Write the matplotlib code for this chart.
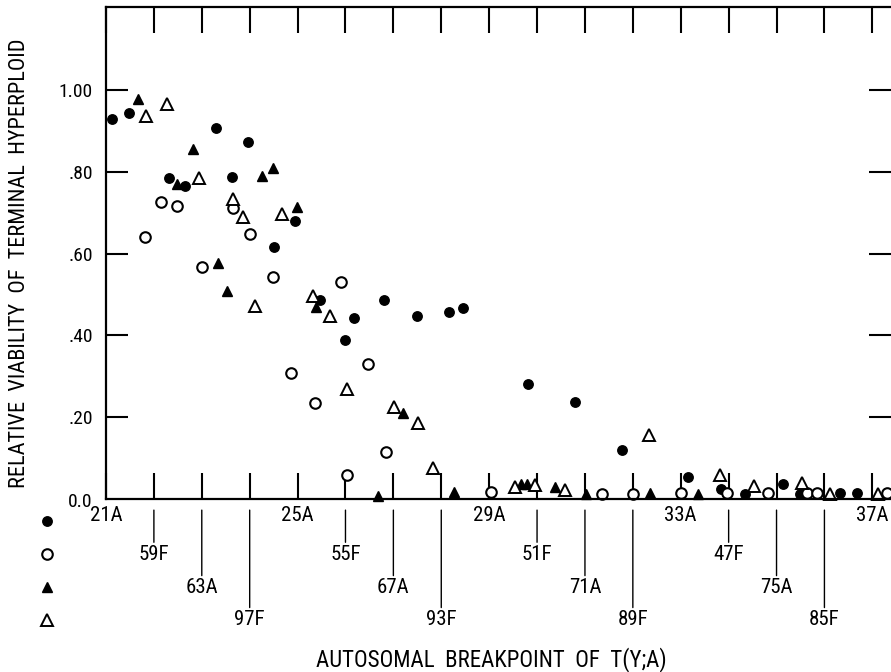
import numpy as np
import matplotlib
matplotlib.use("Agg")
import matplotlib.pyplot as plt
from matplotlib.lines import Line2D
from matplotlib import font_manager as fm


def has_font(name):
    try:
        fm.findfont(fm.FontProperties(family=name), fallback_to_default=False)
        return True
    except ValueError:
        return False


# the scan uses a narrow gothic lettering; take the narrowest face we have
narrow = [f for f in ['Liberation Sans Narrow', 'DejaVu Sans Condensed',
                      'Roboto Condensed', 'Roboto'] if has_font(f)]
plt.rcParams['font.family'] = narrow[:1] + ['DejaVu Sans']

# breakpoint labels along the x axis, in order, and the row each one sits in
breakpoints = ["21A", "59F", "63A", "97F", "25A", "55F", "67A", "93F", "29A",
               "51F", "71A", "89F", "33A", "47F", "75A", "85F", "37A"]
label_row = [0, 1, 2, 3, 0, 1, 2, 3, 0, 1, 2, 3, 0, 1, 2, 3, 0]

# filled circles
fc_x = [0.13, 0.48, 1.32, 1.65, 2.30, 2.63, 2.96, 3.51, 3.95, 4.47, 4.99, 5.18,
        5.80, 6.49, 7.16, 7.45, 8.81, 9.79, 10.77, 12.15, 12.84, 13.34, 14.13,
        14.49, 15.32, 15.68]
fc_y = [0.93, 0.944, 0.785, 0.765, 0.907, 0.787, 0.873, 0.616, 0.68, 0.487,
        0.389, 0.443, 0.487, 0.447, 0.457, 0.467, 0.281, 0.237, 0.12, 0.054,
        0.024, 0.012, 0.037, 0.012, 0.015, 0.015]

# open circles
oc_x = [0.81, 1.15, 1.48, 2.00, 2.65, 3.01, 3.49, 3.86, 4.36, 4.91, 5.03, 5.47,
        5.85, 8.04, 10.35, 11.00, 12.00, 12.96, 13.82, 14.63, 14.84, 16.30]
oc_y = [0.64, 0.726, 0.716, 0.567, 0.711, 0.648, 0.543, 0.308, 0.235, 0.531,
        0.059, 0.33, 0.115, 0.017, 0.012, 0.012, 0.015, 0.015, 0.015, 0.015,
        0.015, 0.015]

# filled triangles
ft_x = [0.67, 1.48, 1.82, 2.34, 2.53, 3.26, 3.49, 3.99, 4.38, 5.68, 6.20, 7.26,
        8.66, 8.79, 9.37, 10.02, 11.36, 12.36]
ft_y = [0.978, 0.77, 0.856, 0.577, 0.509, 0.79, 0.809, 0.714, 0.47, 0.007,
        0.21, 0.017, 0.037, 0.037, 0.03, 0.012, 0.015, 0.012]

# open triangles
ot_x = [0.84, 1.27, 1.94, 2.65, 2.86, 3.11, 3.67, 4.32, 4.68, 5.03, 6.01, 6.51,
        6.83, 8.54, 8.96, 9.58, 11.34, 12.82, 13.53, 14.53, 15.11, 16.12]
ot_y = [0.936, 0.966, 0.785, 0.733, 0.69, 0.472, 0.697, 0.496, 0.447, 0.269,
        0.225, 0.186, 0.076, 0.03, 0.035, 0.022, 0.157, 0.059, 0.032, 0.039,
        0.012, 0.012]

yticks = [0.0, 0.2, 0.4, 0.6, 0.8, 1.0]
ytick_labels = ["0.0", ".20", ".40", ".60", ".80", "1.00"]

fig = plt.figure(figsize=(8.91, 6.72), dpi=100)
ax = fig.add_axes([106 / 891, 1 - 499 / 672, 785 / 891, 492 / 672])

ax.plot(fc_x, fc_y, 'o', color='black', ms=6.8, clip_on=False)
ax.plot(oc_x, oc_y, 'o', mfc='white', mec='black', mew=1.5, ms=7.6, clip_on=False)
ax.plot(ft_x, ft_y, '^', color='black', ms=7.8, clip_on=False)
ax.plot(ot_x, ot_y, '^', mfc='white', mec='black', mew=1.4, ms=8.2, clip_on=False)

ax.set_xlim(0, 16.39)
ax.set_ylim(0, 1.203)

ax.spines['right'].set_visible(False)
for s in ['left', 'top', 'bottom']:
    ax.spines[s].set_linewidth(1.6)

ax.set_yticks(yticks[1:])
ax.set_yticklabels(ytick_labels[1:])
ax.tick_params(axis='y', direction='in', length=16, width=1.5, right=True,
               labelsize=14, pad=9.5)
ax.annotate(ytick_labels[0], xy=(0, yticks[0]), xycoords=ax.get_yaxis_transform(),
            xytext=(-9.5, -2.5), textcoords='offset points',
            ha='right', va='center', fontsize=14)

ax.set_xticks(np.arange(len(breakpoints)))
ax.set_xticklabels([])
ax.tick_params(axis='x', direction='in', length=19, width=1.5, top=True)

# staggered breakpoint labels with leader lines
row_offset = [12, 40, 64, 87]
for i, (lab, row) in enumerate(zip(breakpoints, label_row)):
    arrow = None
    if row > 0:
        arrow = dict(arrowstyle='-', lw=1.0, color='black', shrinkA=0, shrinkB=8)
    ax.annotate(lab, xy=(i, 0), xycoords=ax.get_xaxis_transform(),
                xytext=(0, -row_offset[row]), textcoords='offset points',
                ha='center', va='center', fontsize=15, arrowprops=arrow)

fig.text(491 / 891, 1 - 660 / 672, "AUTOSOMAL  BREAKPOINT  OF  T(Y;A)",
         ha='center', va='center', fontsize=16.5)
fig.text(20 / 891, 1 - 263 / 672,
         "RELATIVE  VIABILITY  OF  TERMINAL  HYPERPLOID",
         ha='center', va='center', rotation=90, fontsize=16)

# symbol key, one per label row
handles = [
    Line2D([], [], ls='', marker='o', color='black', ms=6.8),
    Line2D([], [], ls='', marker='o', mfc='white', mec='black', mew=1.5, ms=7.6),
    Line2D([], [], ls='', marker='^', color='black', ms=7.8),
    Line2D([], [], ls='', marker='^', mfc='white', mec='black', mew=1.4, ms=8.2),
]
fig.legend(handles, [' '] * 4, loc='center left',
           bbox_to_anchor=(38.7 / 891, 1 - 571.5 / 672),
           bbox_transform=fig.transFigure, frameon=False,
           handlelength=1.0, handletextpad=0, borderpad=0, borderaxespad=0,
           labelspacing=0.9, numpoints=1, prop={'family': 'DejaVu Sans', 'size': 12})

fig.savefig("out.png", dpi=100)
